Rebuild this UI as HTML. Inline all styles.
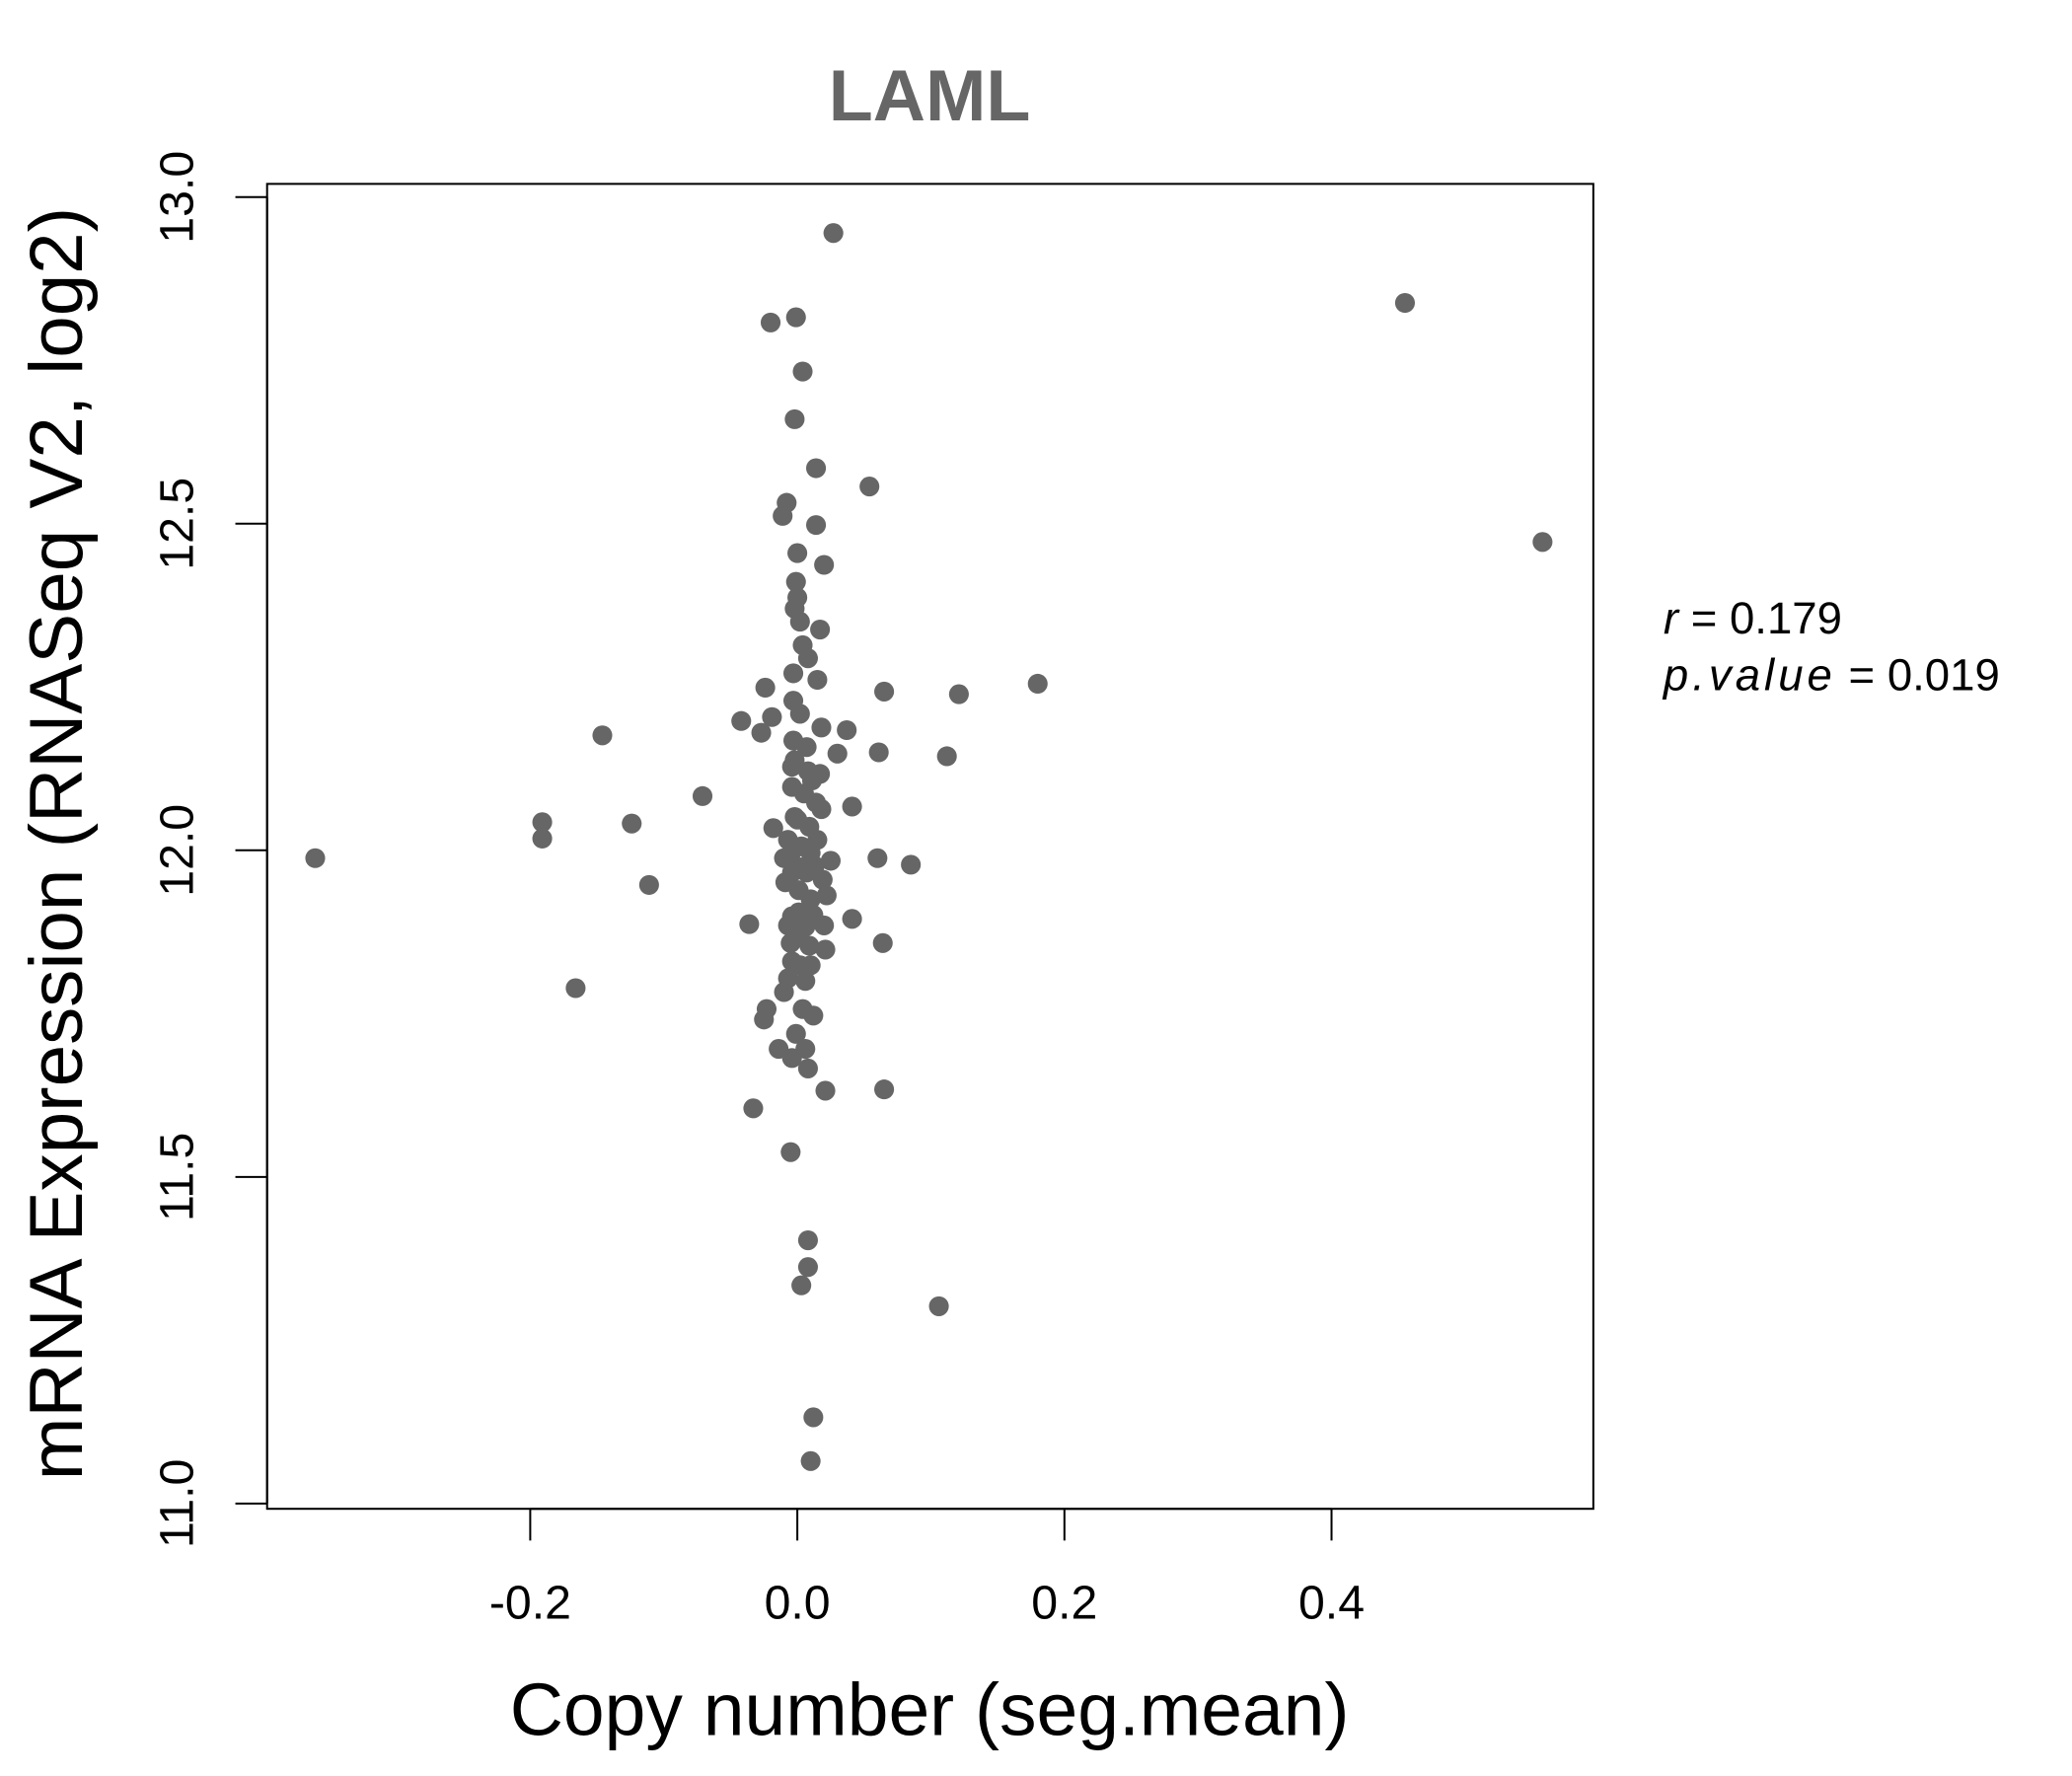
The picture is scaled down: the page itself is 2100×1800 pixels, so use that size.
<!DOCTYPE html>
<html><head><meta charset="utf-8"><style>
html,body{margin:0;padding:0;background:#fff;}
svg{display:block;}
text{font-family:"Liberation Sans",sans-serif;}
</style></head><body>
<svg id="chart" width="2100" height="1800" viewBox="0 0 1567 1343" xmlns="http://www.w3.org/2000/svg">
<rect width="1567" height="1343" fill="#fff"/>
<text x="703" y="91" text-anchor="middle" font-size="55" font-weight="bold" fill="#666">LAML</text>
<rect x="202" y="139" width="1003" height="1002" fill="none" stroke="#000" stroke-width="1.5"/>
<g id="xaxis"></g>
<g id="yaxis"></g>
<g id="points"></g>
<text x="703" y="1312" text-anchor="middle" font-size="56">Copy number (seg.mean)</text>
<text transform="translate(62,638) rotate(-90)" text-anchor="middle" font-size="57">mRNA Expression (RNASeq V2, log2)</text>
<text x="1258" y="479" font-size="34"><tspan font-style="italic">r</tspan> = 0.179</text>
<text x="1258" y="522" font-size="34"><tspan font-style="italic" letter-spacing="3">p.value</tspan> = 0.019</text>
</svg>
<script>
const xTicks = [-0.2, 0.0, 0.2, 0.4];
const xTickLabels = ["-0.2", "0.0", "0.2", "0.4"];
const yTicks = [11.0, 11.5, 12.0, 12.5, 13.0];
const yTickLabels = ["11.0", "11.5", "12.0", "12.5", "13.0"];
const xVals = [0.027,-0.020,-0.001,0.004,-0.002,0.014,0.054,-0.008,-0.011,0.014,
0.000,0.020,-0.001,0.000,-0.002,0.002,0.017,0.004,0.008,-0.003,
0.015,-0.024,0.065,0.121,0.180,-0.042,-0.019,-0.027,-0.003,0.002,
0.018,0.037,-0.003,0.007,0.030,0.061,0.112,-0.146,-0.004,0.008,
0.017,-0.004,-0.071,0.014,0.041,-0.191,-0.191,-0.124,-0.018,-0.002,
0.009,0.015,0.003,-0.010,0.010,0.025,0.060,0.085,-0.361,-0.004,
0.007,0.019,-0.111,-0.009,0.001,0.022,0.010,-0.036,-0.004,0.041,
0.006,0.020,0.021,0.064,-0.005,0.009,-0.004,0.002,0.010,-0.007,
0.006,-0.166,-0.010,-0.023,0.004,-0.025,0.012,-0.001,-0.014,-0.004,
0.008,0.006,0.021,0.065,-0.033,-0.005,0.008,0.008,0.003,0.106,
0.012,0.010,0.455,0.558,0.001,-0.007,0.012,0.001,-0.002,0.005,
0.011,0.000,-0.007,0.013,0.018,0.003,-0.005];
const yVals = [12.945,12.808,12.816,12.733,12.660,12.585,12.557,12.532,12.512,12.498,
12.455,12.437,12.411,12.387,12.370,12.350,12.338,12.314,12.294,12.271,
12.261,12.249,12.243,12.239,12.255,12.198,12.204,12.180,12.229,12.209,
12.188,12.184,12.168,12.158,12.148,12.150,12.144,12.176,12.128,12.121,
12.117,12.097,12.083,12.073,12.067,12.043,12.018,12.041,12.034,12.051,
12.036,12.016,12.006,11.988,11.996,11.984,11.988,11.978,11.988,11.966,
11.966,11.955,11.947,11.951,11.939,11.931,11.925,11.887,11.899,11.895,
11.883,11.885,11.848,11.858,11.858,11.854,11.830,11.824,11.824,11.804,
11.800,11.789,11.783,11.757,11.757,11.741,11.747,11.719,11.696,11.682,
11.666,11.696,11.632,11.634,11.605,11.538,11.403,11.362,11.334,11.302,
11.132,11.065,12.838,12.472,11.905,11.885,11.901,11.874,12.138,12.087,
12.107,12.047,12.016,11.976,12.063,11.974,11.994];

const NS = "http://www.w3.org/2000/svg";
function xScale(v){ return 603 + v * 1010; }
function yScale(v){ return 149 + (13 - v) * 494; }

const xg = document.getElementById('xaxis');
const ax = document.createElementNS(NS,'line');


ax.setAttribute('x1', xScale(xTicks[0])); ax.setAttribute('x2', xScale(xTicks[xTicks.length-1]));
ax.setAttribute('y1', 1141); ax.setAttribute('y2', 1141);
ax.setAttribute('stroke','#000'); ax.setAttribute('stroke-width','1.5');
xg.appendChild(ax);
xTicks.forEach((t,i)=>{
  const l = document.createElementNS(NS,'line');
  
  
  l.setAttribute('x1', xScale(t)); l.setAttribute('x2', xScale(t));
  l.setAttribute('y1', 1141); l.setAttribute('y2', 1165);
  l.setAttribute('stroke','#000'); l.setAttribute('stroke-width','1.5');
  xg.appendChild(l);
  const tx = document.createElementNS(NS,'text');
  
  
  tx.setAttribute('x', xScale(t)); tx.setAttribute('y', 1224);
  tx.setAttribute('text-anchor','middle'); tx.setAttribute('font-size','36');
  tx.textContent = xTickLabels[i];
  xg.appendChild(tx);
});

const yg = document.getElementById('yaxis');
const ay = document.createElementNS(NS,'line');


ay.setAttribute('x1', 202); ay.setAttribute('x2', 202);
ay.setAttribute('y1', yScale(yTicks[0])); ay.setAttribute('y2', yScale(yTicks[yTicks.length-1]));
ay.setAttribute('stroke','#000'); ay.setAttribute('stroke-width','1.5');
yg.appendChild(ay);
yTicks.forEach((t,i)=>{
  const l = document.createElementNS(NS,'line');
  
  
  l.setAttribute('x1', 178); l.setAttribute('x2', 202);
  l.setAttribute('y1', yScale(t)); l.setAttribute('y2', yScale(t));
  l.setAttribute('stroke','#000'); l.setAttribute('stroke-width','1.5');
  yg.appendChild(l);
  const tx = document.createElementNS(NS,'text');
  
  
  tx.setAttribute('transform', 'translate(146,' + yScale(t) + ') rotate(-90)');
  tx.setAttribute('text-anchor','middle'); tx.setAttribute('font-size','36');
  tx.textContent = yTickLabels[i];
  yg.appendChild(tx);
});

const pg = document.getElementById('points');
xVals.forEach((xv,i)=>{
  const c = document.createElementNS(NS,'circle');
  
  
  c.setAttribute('cx', xScale(xv)); c.setAttribute('cy', yScale(yVals[i]));
  c.setAttribute('r', 7.5); c.setAttribute('fill', '#666');
  pg.appendChild(c);
});
</script>
</body></html>
